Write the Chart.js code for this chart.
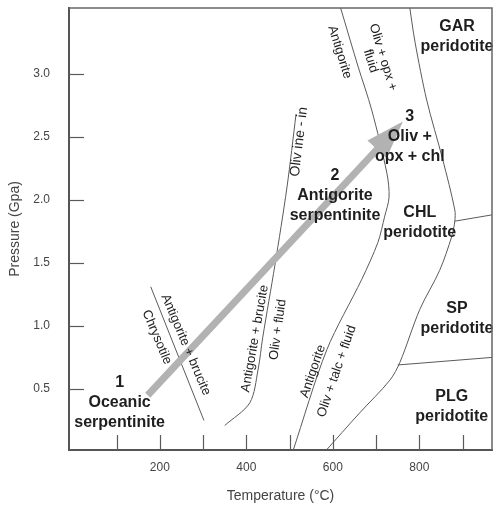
<!DOCTYPE html>
<html>
<head>
<meta charset="utf-8">
<script src="https://cdn.jsdelivr.net/npm/chart.js@4.4.1/dist/chart.umd.min.js"></script>
<style>
  html, body { margin: 0; padding: 0; background: #fff; }
  #wrap { width: 496px; height: 509px; position: relative; }
</style>
</head>
<body>
<div id="wrap"><canvas id="phaseChart"></canvas></div>
<script>
// phase boundaries, [temperature (°C), pressure (GPa)]
var antigoriteOut = [[618, 3.52], [658, 3.06], [690, 2.71], [725, 2.21], [730, 2.02], [720, 1.87], [704, 1.66], [667, 1.37], [586, 0.81], [507, 0]];
var chloriteOut = [[778, 3.52], [790, 3.25], [817, 2.79], [854, 2.32], [882, 1.92], [882, 1.83], [875, 1.71], [847, 1.44], [801, 1.13], [755, 0.71], [732, 0.57], [662, 0.31], [581, 0]];
var garnetChl = [[882, 1.83], [968, 1.88]];
var spinelPlg = [[750, 0.69], [968, 0.75]];
var bruciteOut = [[515, 2.68], [494, 2.10], [466, 1.48], [438, 0.91], [427, 0.65], [408, 0.39], [350, 0.21]];
var chrysotileOut = [[179, 1.31], [302, 0.25]];
var arrowPath = [[172, 0.45], [762, 2.62]];

var xMajorTicks = [200, 400, 600, 800];
var xMinorTicks = [100, 200, 300, 400, 500, 600, 700, 800, 900];
var yTicks = [0.5, 1.0, 1.5, 2.0, 2.5, 3.0];

// field names (bold) and reaction names (along the curves)
var fieldLabels = [
  { lines: ['1', 'Oceanic', 'serpentinite'], at: [107, 0.55] },
  { lines: ['2', 'Antigorite', 'serpentinite'], at: [605, 2.19] },
  { lines: ['3', 'Oliv +', 'opx + chl'], at: [778, 2.66] },
  { lines: ['GAR', 'peridotite'], at: [887, 3.37] },
  { lines: ['CHL', 'peridotite'], at: [801, 1.90] },
  { lines: ['SP', 'peridotite'], at: [887, 1.14] },
  { lines: ['PLG', 'peridotite'], at: [875, 0.44] }
];
var curveLabels = [
  { lines: ['Antigorite'], at: [616, 3.17], angle: 73 },
  { lines: ['Oliv + opx +', 'fluid'], at: [716, 3.13], angle: 73 },
  { lines: ['Oliv ine - in'], at: [522, 2.46], angle: -83, size: 14 },
  { lines: ['Chrysotile'], at: [193, 0.91], angle: 67 },
  { lines: ['Antigorite + brucite'], at: [260, 0.85], angle: 67 },
  { lines: ['Antigorite + brucite'], at: [420, 0.90], angle: -80 },
  { lines: ['Oliv + fluid'], at: [473, 0.97], angle: -82 },
  { lines: ['Antigorite'], at: [554, 0.64], angle: -71 },
  { lines: ['Oliv + talc + fluid'], at: [609, 0.64], angle: -71 }
];

var lineColor = '#5a5a5a';
var textColor = '#1e1e1e';
var axisColor = '#444';
var fontFamily = '"Liberation Sans", Arial, sans-serif';

function toXY(pts) {
  return pts.map(function(p) { return { x: p[0], y: p[1] }; });
}

function boundary(pts, tension) {
  return {
    data: toXY(pts),
    showLine: true,
    borderColor: lineColor,
    borderWidth: 1,
    pointRadius: 0,
    tension: tension,
    fill: false
  };
}

function drawBlock(c, lines, x, y, angle, font, lh) {
  c.save();
  c.translate(x, y);
  c.rotate(angle * Math.PI / 180);
  c.font = font;
  c.fillStyle = textColor;
  c.textAlign = 'center';
  c.textBaseline = 'middle';
  lines.forEach(function(s, i) { c.fillText(s, 0, i * lh); });
  c.restore();
}

function noEdgePadding(axis) {
  axis.paddingTop = 0;
  axis.paddingBottom = 0;
  axis.paddingLeft = 0;
  axis.paddingRight = 0;
}

/* Plugin: frame + inward tick marks */
var framePlugin = {
  id: 'frame',
  afterDraw: function(chart) {
    var c = chart.ctx, a = chart.chartArea;
    var xs = chart.scales.x, ys = chart.scales.y;
    c.save();
    c.strokeStyle = '#666';
    c.lineWidth = 1.5;
    c.beginPath();
    c.moveTo(a.left, a.top); c.lineTo(a.right, a.top); c.lineTo(a.right, a.bottom);
    c.stroke();
    c.strokeStyle = lineColor;
    c.lineWidth = 1.2;
    xMinorTicks.forEach(function(v) {
      var px = Math.round(xs.getPixelForValue(v)) + 0.5;
      c.beginPath(); c.moveTo(px, a.bottom); c.lineTo(px, a.bottom - 15); c.stroke();
    });
    yTicks.forEach(function(v) {
      var py = Math.round(ys.getPixelForValue(v)) + 0.5;
      c.beginPath(); c.moveTo(a.left, py); c.lineTo(a.left + 15, py); c.stroke();
    });
    c.restore();
  }
};

/* Plugin: P-T path arrow and the labels on top */
var annotatePlugin = {
  id: 'annotate',
  afterDatasetsDraw: function(chart) {
    var c = chart.ctx;
    var xs = chart.scales.x, ys = chart.scales.y;
    var x0 = xs.getPixelForValue(arrowPath[0][0]), y0 = ys.getPixelForValue(arrowPath[0][1]);
    var x1 = xs.getPixelForValue(arrowPath[1][0]), y1 = ys.getPixelForValue(arrowPath[1][1]);
    var len = Math.sqrt((x1 - x0) * (x1 - x0) + (y1 - y0) * (y1 - y0));
    var ux = (x1 - x0) / len, uy = (y1 - y0) / len;
    var nx = -uy, ny = ux;
    var headL = 38, headW = 13;
    c.save();
    c.strokeStyle = '#b2b2b2';
    c.fillStyle = '#b2b2b2';
    c.lineWidth = 7;
    c.beginPath();
    c.moveTo(x0, y0);
    c.lineTo(x1 - ux * headL * 0.9, y1 - uy * headL * 0.9);
    c.stroke();
    c.beginPath();
    c.moveTo(x1, y1);
    c.lineTo(x1 - ux * headL + nx * headW, y1 - uy * headL + ny * headW);
    c.lineTo(x1 - ux * headL - nx * headW, y1 - uy * headL - ny * headW);
    c.closePath();
    c.fill();
    c.restore();

    curveLabels.forEach(function(l) {
      drawBlock(c, l.lines, xs.getPixelForValue(l.at[0]), ys.getPixelForValue(l.at[1]),
        l.angle, (l.size || 13) + 'px ' + fontFamily, 13);
    });
    fieldLabels.forEach(function(l) {
      drawBlock(c, l.lines, xs.getPixelForValue(l.at[0]), ys.getPixelForValue(l.at[1]),
        0, 'bold 16px ' + fontFamily, 20);
    });
  }
};

var ctx = document.getElementById('phaseChart');

new Chart(ctx, {
  type: 'scatter',
  data: {
    datasets: [
      boundary(antigoriteOut, 0.3),
      boundary(chloriteOut, 0.3),
      boundary(garnetChl, 0),
      boundary(spinelPlg, 0),
      boundary(bruciteOut, 0.3),
      boundary(chrysotileOut, 0)
    ]
  },
  options: {
    responsive: true,
    maintainAspectRatio: false,
    animation: false,
    layout: { padding: { top: 8, right: 4, left: 0, bottom: 0 } },
    plugins: {
      legend: { display: false },
      tooltip: { enabled: false }
    },
    scales: {
      x: {
        type: 'linear',
        min: -10,
        max: 968,
        afterBuildTicks: function(axis) {
          axis.ticks = xMajorTicks.map(function(v) { return { value: v }; });
        },
        afterFit: function(axis) { axis.height = 59; noEdgePadding(axis); },
        grid: { display: true, drawOnChartArea: false, drawTicks: false },
        border: { display: true, color: '#555', width: 2 },
        ticks: {
          color: axisColor,
          padding: 10,
          maxRotation: 0,
          font: { size: 12, family: fontFamily },
          callback: function(v) { return String(v); }
        },
        title: {
          display: true,
          text: 'Temperature (°C)',
          color: axisColor,
          font: { size: 14, family: fontFamily },
          padding: { top: 0, bottom: 4 }
        }
      },
      y: {
        type: 'linear',
        min: 0.016,
        max: 3.52,
        afterBuildTicks: function(axis) {
          axis.ticks = yTicks.map(function(v) { return { value: v }; });
        },
        afterFit: function(axis) { axis.width = 69; noEdgePadding(axis); },
        grid: { display: true, drawOnChartArea: false, drawTicks: false },
        border: { display: true, color: '#555', width: 2 },
        ticks: {
          color: axisColor,
          padding: 19,
          font: { size: 12, family: fontFamily },
          callback: function(v) { return v.toFixed(1); }
        },
        title: {
          display: true,
          text: 'Pressure (Gpa)',
          color: axisColor,
          font: { size: 14, family: fontFamily },
          padding: { top: 7, bottom: 0 }
        }
      }
    }
  },
  plugins: [framePlugin, annotatePlugin]
});
</script>
</body>
</html>
